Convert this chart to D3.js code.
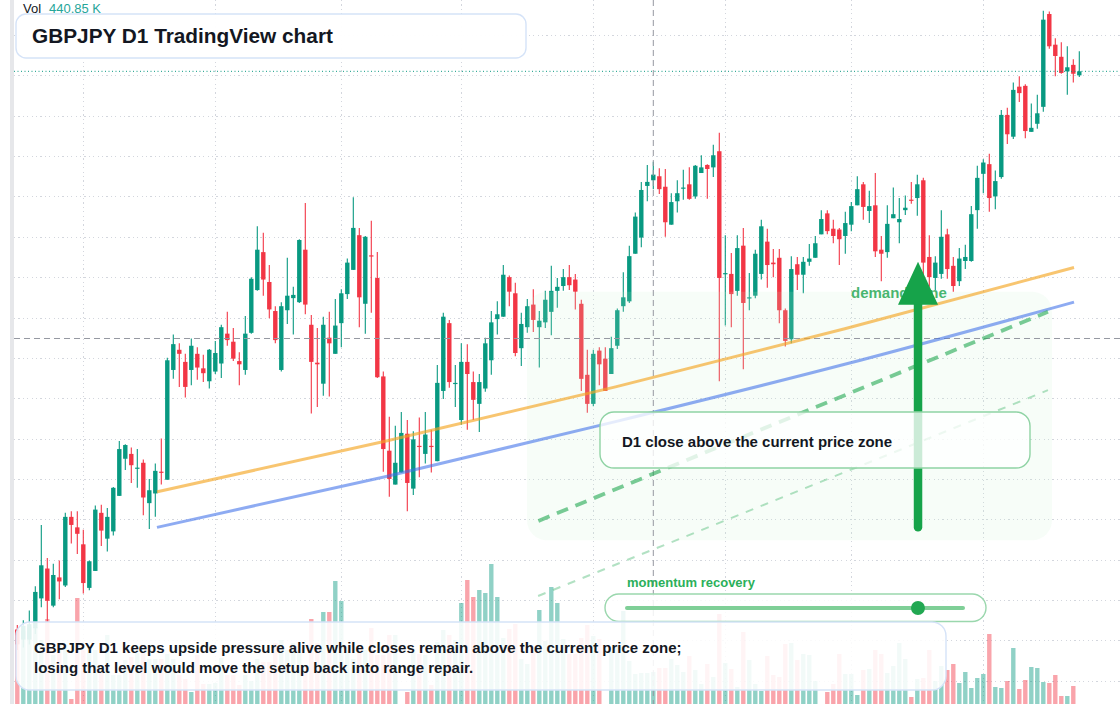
<!DOCTYPE html>
<html><head><meta charset="utf-8">
<script src="https://cdn.jsdelivr.net/npm/d3@7"></script>
<style>html,body{margin:0;padding:0;background:#fff;overflow:hidden}svg{display:block;font-family:"Liberation Sans",Arial,sans-serif}</style>
</head><body><svg id="chart" width="1120" height="704"></svg>
<script>
// ---------- data (GBPJPY D1) ----------
const opens = [185.63,185.51,185.51,185.65,186.02,186.39,185.93,186.28,186.18,187.03,
186.90,186.69,186.15,186.36,187.08,186.76,186.85,187.29,187.75,187.81,
187.63,187.70,187.20,187.32,187.59,187.49,188.85,189.10,188.95,188.85,
189.05,188.87,188.71,188.83,188.93,189.30,189.20,188.96,188.85,189.31,
189.84,190.31,189.94,189.58,188.85,189.59,189.74,189.69,190.34,189.41,
188.94,188.68,189.25,189.05,189.43,189.79,190.09,190.52,189.67,190.27,
189.99,188.77,187.85,187.43,187.58,188.06,187.38,187.91,187.81,187.91,
187.72,188.59,189.43,188.68,188.23,188.95,188.70,188.43,188.62,188.97,
189.48,189.51,190.00,189.80,189.12,189.38,189.66,189.38,189.44,189.57,
189.83,189.89,190.00,189.97,189.67,188.79,188.43,189.09,188.99,188.80,
189.15,189.64,189.70,190.29,190.49,191.13,191.20,191.25,191.12,190.65,
190.94,191.10,191.15,191.00,191.29,191.39,191.36,191.56,190.04,190.04,
189.83,190.39,189.74,189.77,190.04,190.44,190.18,190.24,189.59,189.23,
190.16,190.03,190.19,190.24,190.53,190.79,190.60,190.59,190.51,190.65,
190.89,191.15,190.82,190.89,190.34,190.31,190.73,190.68,190.83,190.96,
190.98,191.20,190.25,189.99,190.04,190.53,190.14,189.95,190.20,190.20,
190.83,191.28,191.40,191.00,191.24,192.01,191.74,192.36,192.37,191.80,
191.90,192.11,193.26,192.88,192.73,192.55,192.63,192.50];
const highs = [185.69,185.75,185.87,186.17,186.93,186.52,186.45,186.49,187.08,187.10,
187.10,186.87,186.49,187.17,187.18,187.14,187.40,187.97,187.93,187.89,
187.87,187.74,187.50,187.69,188.00,189.00,189.29,189.18,189.05,189.24,
189.13,189.04,189.11,189.21,189.41,189.57,189.37,189.07,189.52,190.00,
190.63,190.55,190.15,189.64,189.69,190.24,189.88,190.47,190.92,189.53,
189.37,189.51,189.57,189.73,189.85,190.23,190.99,190.61,190.51,190.70,
190.31,188.83,188.27,188.16,188.33,188.23,188.09,188.26,188.33,188.11,
188.91,189.56,189.47,188.91,189.18,189.17,188.83,188.80,189.25,189.58,
189.70,190.15,190.02,189.93,189.56,189.73,189.85,189.58,189.83,190.14,
189.99,190.10,190.15,190.04,189.72,189.10,189.10,189.13,189.13,189.26,
189.61,190.06,190.39,190.80,191.18,191.39,191.43,191.35,191.34,191.04,
191.20,191.33,191.36,191.39,191.51,191.40,191.64,191.79,190.52,190.30,
190.52,190.61,190.05,190.34,190.71,190.60,190.35,190.35,189.61,190.26,
190.25,190.25,190.41,190.51,190.83,190.83,190.71,190.61,190.81,190.93,
191.25,191.18,191.07,191.29,190.51,190.89,191.11,190.98,191.01,191.18,
191.27,191.23,190.52,190.26,190.83,190.60,190.25,190.36,190.40,190.88,
191.38,191.46,191.53,191.32,192.07,192.10,192.41,192.49,192.39,192.15,
192.26,193.30,193.29,192.96,192.91,192.86,192.70,192.80];
const lows = [185.38,185.41,185.45,185.58,185.91,185.73,185.91,186.01,186.16,186.70,
186.57,186.08,186.12,186.36,186.67,186.60,186.80,187.29,187.61,187.45,
187.39,187.05,186.88,187.03,187.43,187.49,188.74,188.64,188.51,188.66,
188.73,188.70,188.62,188.80,188.75,189.15,188.96,188.66,188.79,189.30,
189.83,189.77,189.49,189.18,188.83,189.42,189.29,189.68,189.54,188.31,
188.39,188.53,188.52,189.05,189.13,189.73,190.09,189.38,189.30,189.56,
188.75,187.59,187.28,187.43,187.58,187.10,187.30,187.52,187.69,187.58,
187.72,188.49,188.63,188.39,188.17,188.11,188.23,188.08,188.58,188.79,
189.29,189.51,189.64,189.02,188.90,189.31,189.32,188.88,189.37,189.28,
189.62,189.83,189.84,189.60,188.59,188.32,188.40,188.66,188.59,188.80,
189.11,189.57,189.68,190.29,190.37,190.94,191.09,191.03,190.50,190.65,
190.80,190.96,190.96,190.97,191.29,190.97,191.24,188.71,189.40,189.38,
189.77,188.86,189.59,189.74,189.97,189.87,190.00,189.43,189.14,189.18,
189.84,189.80,190.14,190.24,190.53,190.53,190.42,190.15,190.29,190.57,
190.89,190.71,190.67,190.25,189.95,190.24,190.73,190.42,190.77,190.91,
190.76,190.00,189.88,189.84,189.98,189.98,189.82,189.89,190.10,190.19,
190.60,191.04,190.81,190.84,191.22,191.65,191.71,192.17,191.72,191.80,
191.84,192.05,192.83,192.49,192.52,192.26,192.41,192.48];
const closes = [185.45,185.68,185.70,186.10,186.43,185.99,186.31,186.23,187.03,186.93,
186.82,186.21,186.48,187.12,186.86,187.03,187.39,187.87,187.92,187.67,
187.64,187.27,187.36,187.60,187.58,188.97,189.17,189.05,188.64,189.15,
188.88,188.81,189.10,189.06,189.38,189.22,188.99,188.92,189.30,189.98,
190.34,189.97,189.60,189.22,189.64,189.77,189.78,190.46,189.66,188.95,
188.92,189.41,189.18,189.40,189.80,190.18,190.61,189.75,190.50,190.26,
188.76,187.87,187.50,187.70,188.07,187.45,187.99,187.90,188.05,187.90,
188.69,189.51,188.70,188.69,188.95,188.80,188.48,188.70,189.18,189.44,
189.54,190.03,189.82,189.06,189.42,189.64,189.47,189.46,189.72,189.83,
189.88,190.00,189.90,189.82,188.74,188.43,189.05,188.92,188.59,189.12,
189.59,189.75,190.26,190.75,191.08,191.18,191.27,191.09,190.68,190.93,
191.04,191.11,190.97,191.38,191.36,191.34,191.51,189.99,190.05,189.79,
190.36,189.68,189.75,190.29,190.63,190.15,190.16,189.59,189.21,190.10,
190.03,190.19,190.23,190.42,190.72,190.57,190.51,190.47,190.67,190.88,
191.09,190.87,190.88,190.32,190.29,190.66,190.78,190.72,190.86,190.95,
191.15,190.18,190.00,190.18,190.50,190.10,189.89,190.23,190.25,190.78,
191.23,191.42,190.98,191.19,192.01,191.77,192.32,192.28,191.81,191.85,
192.03,193.19,192.86,192.74,192.53,192.60,192.52,192.55];
// volume in thousands
const volumes = [415,405,425,425,360,465,285,335,335,65,
570,310,325,310,200,385,185,185,260,275,
295,295,265,265,265,290,265,185,165,100,
285,140,140,145,270,185,185,135,185,155,
265,250,250,345,360,310,345,310,195,465,
345,500,500,655,555,310,265,335,310,420,
285,285,385,385,30,100,310,290,285,135,
350,410,385,360,545,660,575,610,595,740,
575,370,415,440,265,240,325,510,355,625,
545,365,290,290,370,435,380,365,30,305,
330,505,255,190,195,195,200,220,220,265,
235,200,280,210,140,240,175,490,245,215,
125,400,260,140,105,280,185,175,340,345,
260,290,285,155,30,100,140,290,190,190,
85,210,215,310,290,195,230,345,265,75,
165,170,310,155,230,210,240,145,200,120,
170,190,390,125,120,155,320,115,160,225,
220,150,145,185,80,80,130,20];
const monthStartIndex = [11,33,54,74,96,118,139,161];
const priceTicks = [185,185.5,186,186.5,187,187.5,188,188.5,189,189.5,190,190.5,191,191.5,192,192.5,193];
const upperCurve = [{i:23.28,p:187.34},{i:61.49,p:187.97},{i:99.70,p:188.64},{i:137.91,p:189.36},{i:176.12,p:190.12}];
const lowerCurve = [{i:23.28,p:186.90},{i:61.49,p:187.53},{i:99.70,p:188.21},{i:137.91,p:188.92},{i:176.12,p:189.69}];
const channelMain = [{i:86.85,p:186.98},{i:171.78,p:189.57}];
const channelSoft = [{i:86.80,p:186.05},{i:171.78,p:188.60}];
const demandZone = {i0:84.95, i1:172.45, pLow:186.74, pHigh:189.82};
const arrowMove = {i:150.12, from:186.90, to:190.19};
const crosshair = {i:106, p:189.24};
const momentumValue = 0.866;
const volLabel = "440.85 K";
const titleText = "GBPJPY D1 TradingView chart";
const noteText = "D1 close above the current price zone";
const momentumText = "momentum recovery";
const zoneText = "demand zone";
const footLines = ["GBPJPY D1 keeps upside pressure alive while closes remain above the current price zone;",
                   "losing that level would move the setup back into range repair."];

// ---------- drawing ----------
const W = 1120, H = 704, left = 14;
const N = opens.length;
const svg = d3.select("#chart");
const x = d3.scaleLinear().domain([-0.5, N - 0.5]).range([14.3, 1082.3]);
const y = d3.scaleLinear().domain([186, 193]).range([600, 35]);
const yVol = d3.scaleLinear().domain([0, 750]).range([712, 562]);
const bw = 4.4;
const UP = "#089981", DN = "#f23645";
const data = opens.map((o, i) => ({i, o, h: highs[i], l: lows[i], c: closes[i], v: volumes[i], up: closes[i] >= o}));

svg.append("rect").attr("width", W).attr("height", H).attr("fill", "#fff");
svg.append("defs").append("clipPath").attr("id", "plot")
  .append("rect").attr("x", left).attr("y", 0).attr("width", W - left).attr("height", H);
const plot = svg.append("g").attr("clip-path", "url(#plot)");

// grid
const grid = plot.append("g").attr("stroke", "#d3d6dd").attr("stroke-width", 1)
  .attr("stroke-dasharray", "1.2 3.2").attr("shape-rendering", "crispEdges");
grid.selectAll(".h").data(priceTicks).join("line")
  .attr("x1", left).attr("x2", W).attr("y1", d => Math.round(y(d)) + 0.5).attr("y2", d => Math.round(y(d)) + 0.5);
grid.selectAll(".v").data(monthStartIndex).join("line")
  .attr("x1", d => Math.round(x(d)) + 0.5).attr("x2", d => Math.round(x(d)) + 0.5).attr("y1", 0).attr("y2", H);

// volume
plot.append("g").selectAll("rect").data(data).join("rect")
  .attr("x", d => x(d.i) - bw / 2).attr("width", bw)
  .attr("y", d => yVol(d.v)).attr("height", d => yVol(0) - yVol(d.v))
  .attr("fill", d => d.up ? UP : DN).attr("fill-opacity", 0.45);

// candles
const cg = plot.append("g");
cg.selectAll("line").data(data).join("line")
  .attr("x1", d => x(d.i)).attr("x2", d => x(d.i))
  .attr("y1", d => y(d.h)).attr("y2", d => y(d.l))
  .attr("stroke", d => d.up ? UP : DN).attr("stroke-width", 1.1);
cg.selectAll("rect").data(data).join("rect")
  .attr("x", d => x(d.i) - bw / 2).attr("width", bw)
  .attr("y", d => y(Math.max(d.o, d.c)))
  .attr("height", d => Math.max(1.2, Math.abs(y(d.o) - y(d.c))))
  .attr("fill", d => d.up ? UP : DN);

// demand zone overlay
plot.append("rect")
  .attr("x", x(demandZone.i0)).attr("y", y(demandZone.pHigh))
  .attr("width", x(demandZone.i1) - x(demandZone.i0)).attr("height", y(demandZone.pLow) - y(demandZone.pHigh))
  .attr("rx", 20).attr("fill", "#c8f0d2").attr("fill-opacity", 0.15);

// last price line
const last = data[N - 1];
plot.append("line").attr("x1", left).attr("x2", W)
  .attr("y1", y(last.c)).attr("y2", y(last.c))
  .attr("stroke", UP).attr("stroke-width", 1).attr("stroke-dasharray", "1 2.5");

// crosshair
const ch = plot.append("g").attr("stroke", "#9598a1").attr("stroke-width", 1).attr("stroke-dasharray", "6 4");
ch.append("line").attr("x1", left).attr("x2", W).attr("y1", y(crosshair.p)).attr("y2", y(crosshair.p));
ch.append("line").attr("x1", x(crosshair.i)).attr("x2", x(crosshair.i)).attr("y1", 0).attr("y2", H);

// curves
const line = d3.line().x(d => x(d.i)).y(d => y(d.p));
const curve = d3.line().x(d => x(d.i)).y(d => y(d.p)).curve(d3.curveNatural);
plot.append("path").attr("d", curve(upperCurve)).attr("fill", "none")
  .attr("stroke", "#f5a623").attr("stroke-opacity", 0.65).attr("stroke-width", 3);
plot.append("path").attr("d", curve(lowerCurve)).attr("fill", "none")
  .attr("stroke", "#3d6fe8").attr("stroke-opacity", 0.58).attr("stroke-width", 3);

// channel dashed lines
plot.append("path").attr("d", line(channelSoft)).attr("fill", "none")
  .attr("stroke", "#22a852").attr("stroke-opacity", 0.35).attr("stroke-width", 2).attr("stroke-dasharray", "8 8");
plot.append("path").attr("d", line(channelMain)).attr("fill", "none")
  .attr("stroke", "#22a852").attr("stroke-opacity", 0.6).attr("stroke-width", 3.8).attr("stroke-dasharray", "12 8");

// demand zone label
svg.append("text").attr("x", x(demandZone.i0) + 324).attr("y", 297.5)
  .attr("font-size", 15).attr("font-weight", 700).attr("fill", "#16a34a").attr("fill-opacity", 0.8).text(zoneText);

// arrow
const ax = x(arrowMove.i), aTip = y(arrowMove.to);
svg.append("line").attr("x1", ax).attr("x2", ax).attr("y1", y(arrowMove.from)).attr("y2", aTip + 40)
  .attr("stroke", "#16a34a").attr("stroke-width", 8.5).attr("stroke-linecap", "round");
svg.append("path").attr("d", `M${ax},${aTip}L${ax + 20},${aTip + 43}L${ax - 20},${aTip + 43}Z`).attr("fill", "#16a34a");

// note box
svg.append("rect").attr("x", 600).attr("y", 412).attr("width", 430).attr("height", 56).attr("rx", 14)
  .attr("fill", "#fff").attr("fill-opacity", 0.78).attr("stroke", "#8fd3a4").attr("stroke-width", 1.4);
svg.append("text").attr("x", 622).attr("y", 447).attr("font-size", 15).attr("font-weight", 700)
  .attr("fill", "#131722").text(noteText);

// momentum widget
svg.append("text").attr("x", 627).attr("y", 587).attr("font-size", 13).attr("font-weight", 700)
  .attr("fill", "#2bb05a").text(momentumText);
svg.append("rect").attr("x", 605).attr("y", 594).attr("width", 381).attr("height", 27.5).attr("rx", 13.75)
  .attr("fill", "#fff").attr("fill-opacity", 0.85).attr("stroke", "#9ad7ad").attr("stroke-width", 1.4);
const mx = d3.scaleLinear().domain([0, 1]).range([627, 963]);
svg.append("line").attr("x1", mx(0)).attr("x2", mx(1)).attr("y1", 608).attr("y2", 608)
  .attr("stroke", "#7fcf97").attr("stroke-width", 4).attr("stroke-linecap", "round");
svg.append("circle").attr("cx", mx(momentumValue)).attr("cy", 608).attr("r", 7).attr("fill", "#22a852");

// footer box
svg.append("rect").attr("x", 16).attr("y", 622).attr("width", 930).attr("height", 68).attr("rx", 14)
  .attr("fill", "#fff").attr("fill-opacity", 0.88).attr("stroke", "#d5e3f8").attr("stroke-width", 1.4);
svg.append("g").selectAll("text").data(footLines).join("text")
  .attr("x", 34).attr("y", (d, k) => 653 + k * 20).attr("font-size", 15).attr("font-weight", 700)
  .attr("fill", "#131722").text(d => d);

// title box
svg.append("rect").attr("x", 16).attr("y", 14).attr("width", 510).attr("height", 44).attr("rx", 10)
  .attr("fill", "#fff").attr("fill-opacity", 0.96).attr("stroke", "#d5e3f8").attr("stroke-width", 1.4);
svg.append("text").attr("x", 32).attr("y", 43.3).attr("font-size", 20.8).attr("font-weight", 700)
  .attr("fill", "#131722").text(titleText);

// vol label
svg.append("text").attr("x", 23).attr("y", 13).attr("font-size", 13).attr("fill", "#131722").text("Vol");
svg.append("text").attr("x", 49).attr("y", 13).attr("font-size", 13).attr("fill", "#26a69a").text(volLabel);

// left strip
svg.append("rect").attr("x", 10).attr("y", 0).attr("width", 4).attr("height", H).attr("fill", "#e6e7ea");
</script></body></html>
